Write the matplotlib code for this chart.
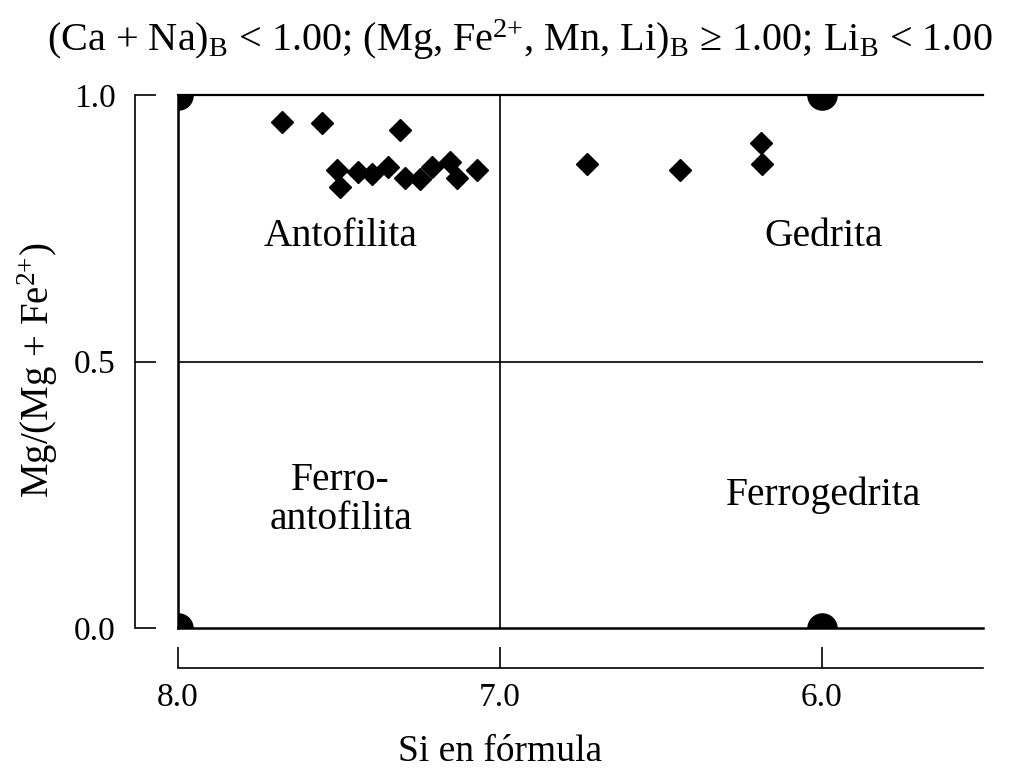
import matplotlib
matplotlib.use("Agg")
import matplotlib.pyplot as plt

# Datos
si_diamantes = [7.677, 7.553, 7.311, 7.506, 7.497, 7.441, 7.398, 7.348, 7.295, 7.248,
                7.211, 7.155, 7.134, 7.071, 6.730, 6.441, 6.190, 6.186]
mg_diamantes = [0.949, 0.947, 0.934, 0.859, 0.827, 0.856, 0.852, 0.865, 0.844, 0.842,
                0.865, 0.874, 0.844, 0.859, 0.871, 0.859, 0.910, 0.871]
si_circulos = [8.0, 8.0, 6.0, 6.0]
mg_circulos = [1.0, 0.0, 1.0, 0.0]
x_ticks = [8.0, 7.0, 6.0]
y_ticks = [0.0, 0.5, 1.0]
nombres = ["Antofilita", "Gedrita", "Ferro-\nantofilita", "Ferrogedrita"]
pos_nombres = [(7.495, 0.735), (5.995, 0.735), (7.495, 0.24), (5.995, 0.25)]

plt.rcParams['font.family'] = ['Liberation Serif', 'DejaVu Serif']
plt.rcParams['mathtext.fontset'] = 'custom'
plt.rcParams['mathtext.rm'] = 'Liberation Serif'
plt.rcParams['mathtext.it'] = 'Liberation Serif:italic'

fig = plt.figure(figsize=(10.15, 7.7), dpi=100)
ax = fig.add_axes([178 / 1015, 1 - 628 / 770, (983 - 178) / 1015, (628 - 95) / 770])

# marco y divisiones
ax.axhline(1.0, color='black', lw=1.6, clip_on=False)
ax.axhline(0.0, color='black', lw=1.8, clip_on=False)
ax.axhline(0.5, color='black', lw=1.2)
ax.axvline(8.0, color='black', lw=1.8, clip_on=False)
ax.axvline(7.0, color='black', lw=1.2)

ax.plot(si_circulos, mg_circulos, 'o', color='black', markersize=21, clip_on=True)
ax.plot(si_diamantes, mg_diamantes, 'D', color='black', markersize=11, clip_on=False)

for nombre, (x, y) in zip(nombres, pos_nombres):
    ax.text(x, y, nombre, ha='center', va='center', fontsize=28.5, linespacing=1.1)

ax.set_xlim(8.0, 5.5)
ax.set_ylim(0.0, 1.0)
ax.set_xticks(x_ticks)
ax.set_xticklabels(['%.1f' % v for v in x_ticks])
ax.set_yticks(y_ticks)
ax.set_yticklabels(['%.1f' % v for v in y_ticks])

ax.spines['top'].set_visible(False)
ax.spines['right'].set_visible(False)
ax.spines['left'].set_position(('outward', 31))
ax.spines['bottom'].set_position(('outward', 29))
ax.spines['left'].set_linewidth(1.2)
ax.spines['bottom'].set_linewidth(1.2)
ax.tick_params(axis='both', direction='in', length=15, width=1.2, labelsize=24)
ax.tick_params(axis='x', pad=10)
ax.tick_params(axis='y', pad=14)

ax.text(0.4, -0.233, "Si en fórmula", transform=ax.transAxes, ha='center', va='center', fontsize=27)
ax.text(-0.174, 0.484, "Mg/(Mg + Fe$^{2{+}}$)", transform=ax.transAxes, ha='center', va='center',
        rotation=90, fontsize=28)
fig.text(520 / 1015, 1 - 40 / 770,
         "(Ca + Na)$_{\\mathrm{B}}$ < 1.00; (Mg, Fe$^{2{+}}$, Mn, Li)$_{\\mathrm{B}}$ ≥ 1.00; Li$_{\\mathrm{B}}$ < 1.00",
         ha='center', va='center', fontsize=29)

fig.savefig("out.png", dpi=100)
